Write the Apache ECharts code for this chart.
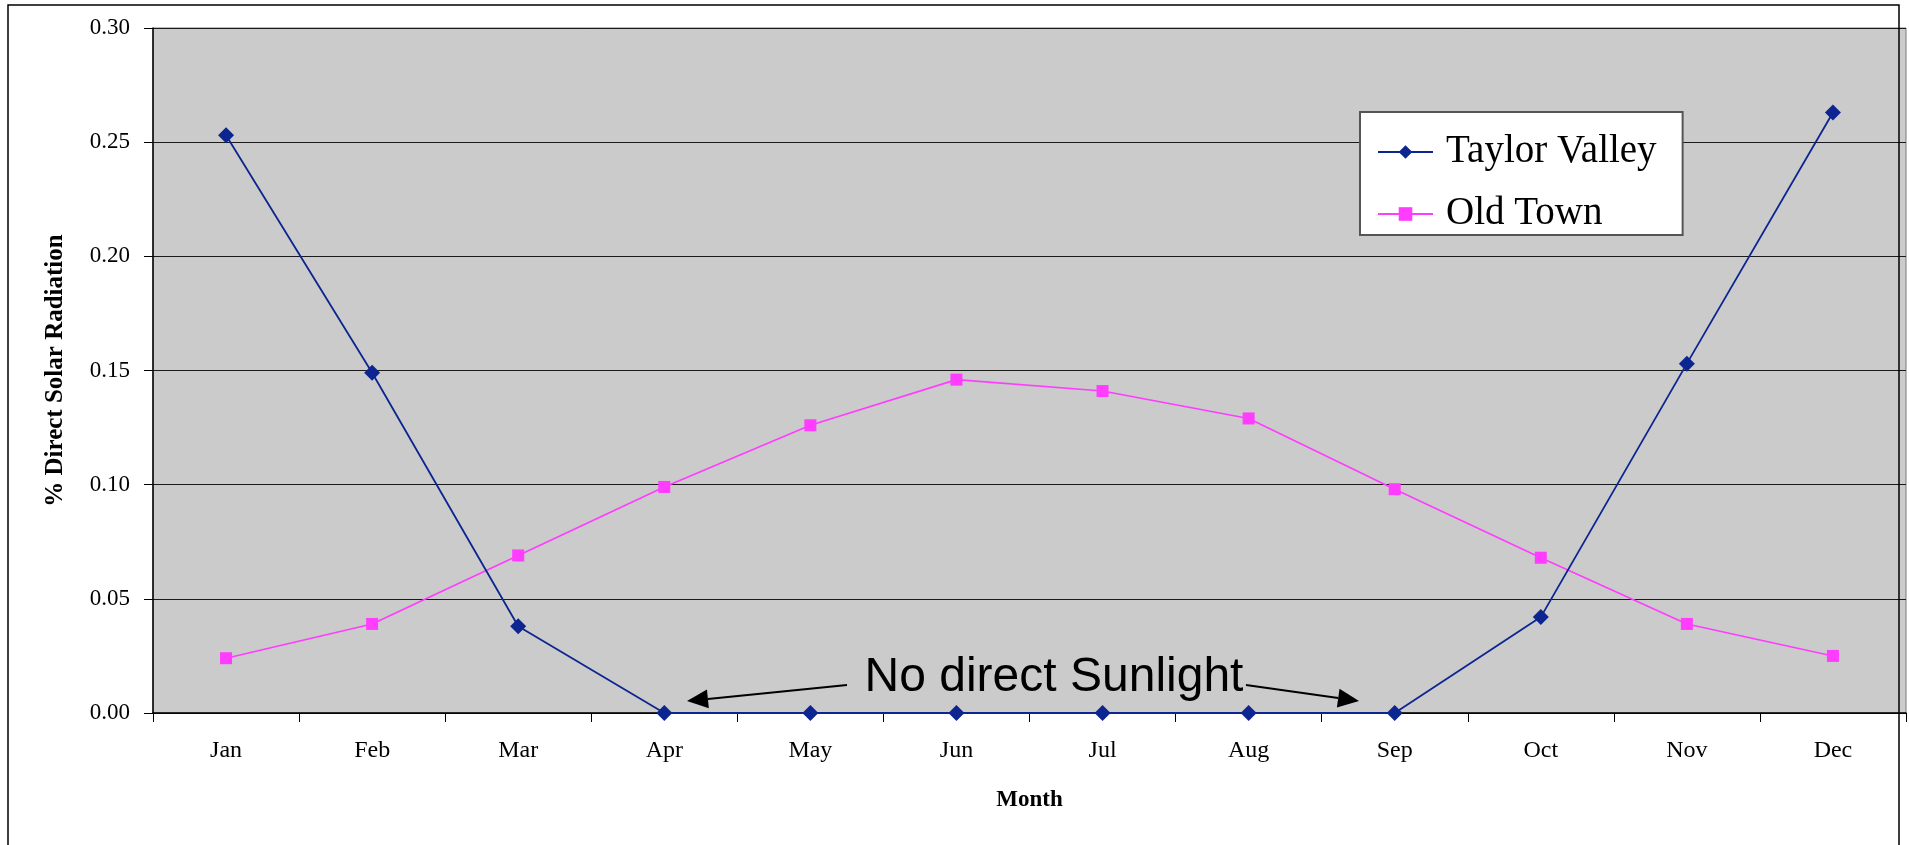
<!DOCTYPE html>
<html lang="en">
<head>
    <meta charset="UTF-8">
    <title>% Direct Solar Radiation by Month</title>
    <script src="https://cdn.jsdelivr.net/npm/echarts@6.0.0/dist/echarts.min.js"></script>
    <style>
        html, body { margin: 0; padding: 0; background: #fff; }
        #chart { width: 1909px; height: 845px; }
    </style>
</head>
<body>
<div id="chart"></div>
<script>
// months on the x axis
const months = ['Jan', 'Feb', 'Mar', 'Apr', 'May', 'Jun', 'Jul', 'Aug', 'Sep', 'Oct', 'Nov', 'Dec'];

// values
const taylorValley = [0.253, 0.149, 0.038, 0, 0, 0, 0, 0, 0, 0.042, 0.153, 0.263];
const oldTown = [0.024, 0.039, 0.069, 0.099, 0.126, 0.146, 0.141, 0.129, 0.098, 0.068, 0.039, 0.025];

const serif = '"Liberation Serif", "Times New Roman", serif';
const sans = '"Liberation Sans", Arial, sans-serif';

const chart = echarts.init(document.getElementById('chart'));

// arrow from (x1,y1) to tip (x2,y2), head drawn along the line
function arrow(x1, y1, x2, y2) {
    const ang = Math.atan2(y2 - y1, x2 - x1);
    const len = 21, half = 9.5;
    const bx = x2 - Math.cos(ang) * len, by = y2 - Math.sin(ang) * len;
    const px = -Math.sin(ang) * half, py = Math.cos(ang) * half;
    return [
        { type: 'line', z: 100, shape: { x1: x1, y1: y1, x2: bx, y2: by }, style: { stroke: '#000', lineWidth: 2 } },
        { type: 'polygon', z: 100, shape: { points: [[x2, y2], [bx + px, by + py], [bx - px, by - py]] }, style: { fill: '#000' } }
    ];
}

chart.setOption({
    animation: false,
    backgroundColor: '#fff',
    grid: {
        left: 153, top: 28, right: 3, bottom: 132,
        show: true,
        backgroundColor: '#cbcbcb',
        borderColor: '#7a7a7a',
        borderWidth: 1
    },
    legend: {
        orient: 'vertical',
        left: 1360, top: 112,
        padding: [20, 26, 1, 17],
        backgroundColor: '#fff',
        borderColor: '#555',
        borderWidth: 2,
        itemWidth: 55,
        itemHeight: 17,
        itemGap: 22,
        textStyle: { fontFamily: serif, fontSize: 39, color: '#000', lineHeight: 40, padding: [0, 0, 0, 8] },
        data: ['Taylor Valley', 'Old Town']
    },
    xAxis: {
        type: 'category',
        data: months,
        boundaryGap: true,
        name: 'Month',
        nameLocation: 'middle',
        nameGap: 76,
        nameTextStyle: { fontFamily: serif, fontSize: 23, fontWeight: 'bold', color: '#000' },
        axisLine: { lineStyle: { color: '#000', width: 1.5 } },
        axisTick: { show: true, interval: 0, length: 9, lineStyle: { color: '#000' } },
        axisLabel: { interval: 0, margin: 26, fontFamily: serif, fontSize: 24, color: '#000' },
        splitLine: { show: false }
    },
    yAxis: {
        type: 'value',
        min: 0, max: 0.3, interval: 0.05,
        name: '% Direct Solar Radiation',
        nameLocation: 'middle',
        nameGap: 85,
        nameTextStyle: { fontFamily: serif, fontSize: 25, fontWeight: 'bold', color: '#000' },
        axisLine: { show: true, lineStyle: { color: '#000', width: 1.5 } },
        axisTick: { show: true, length: 9, lineStyle: { color: '#000' } },
        axisLabel: {
            margin: 23, fontFamily: serif, fontSize: 23, color: '#000',
            formatter: v => v.toFixed(2)
        },
        splitLine: { show: true, lineStyle: { color: '#1a1a1a', width: 1.2 } }
    },
    series: [
        {
            name: 'Taylor Valley',
            type: 'line',
            data: taylorValley,
            color: '#0c2590',
            lineStyle: { width: 1.8 },
            symbol: 'diamond',
            symbolSize: 16,
            z: 3
        },
        {
            name: 'Old Town',
            type: 'line',
            data: oldTown,
            color: '#ff3cff',
            lineStyle: { width: 1.6 },
            symbol: 'rect',
            symbolSize: 12,
            z: 2
        }
    ],
    graphic: [
        // outer chart border
        { type: 'rect', z: 100, silent: true, shape: { x: 8, y: 5, width: 1891, height: 900 }, style: { fill: 'none', stroke: '#000', lineWidth: 1.5 } },
        { type: 'text', z: 100, x: 1054, y: 678, style: { text: 'No direct Sunlight', font: '48px ' + sans, fill: '#000', textAlign: 'center', textVerticalAlign: 'middle' } }
    ].concat(arrow(847, 685, 687, 701), arrow(1246, 685, 1359, 701))
});

window.onresize = function() {
    chart.resize();
};
</script>
</body>
</html>
